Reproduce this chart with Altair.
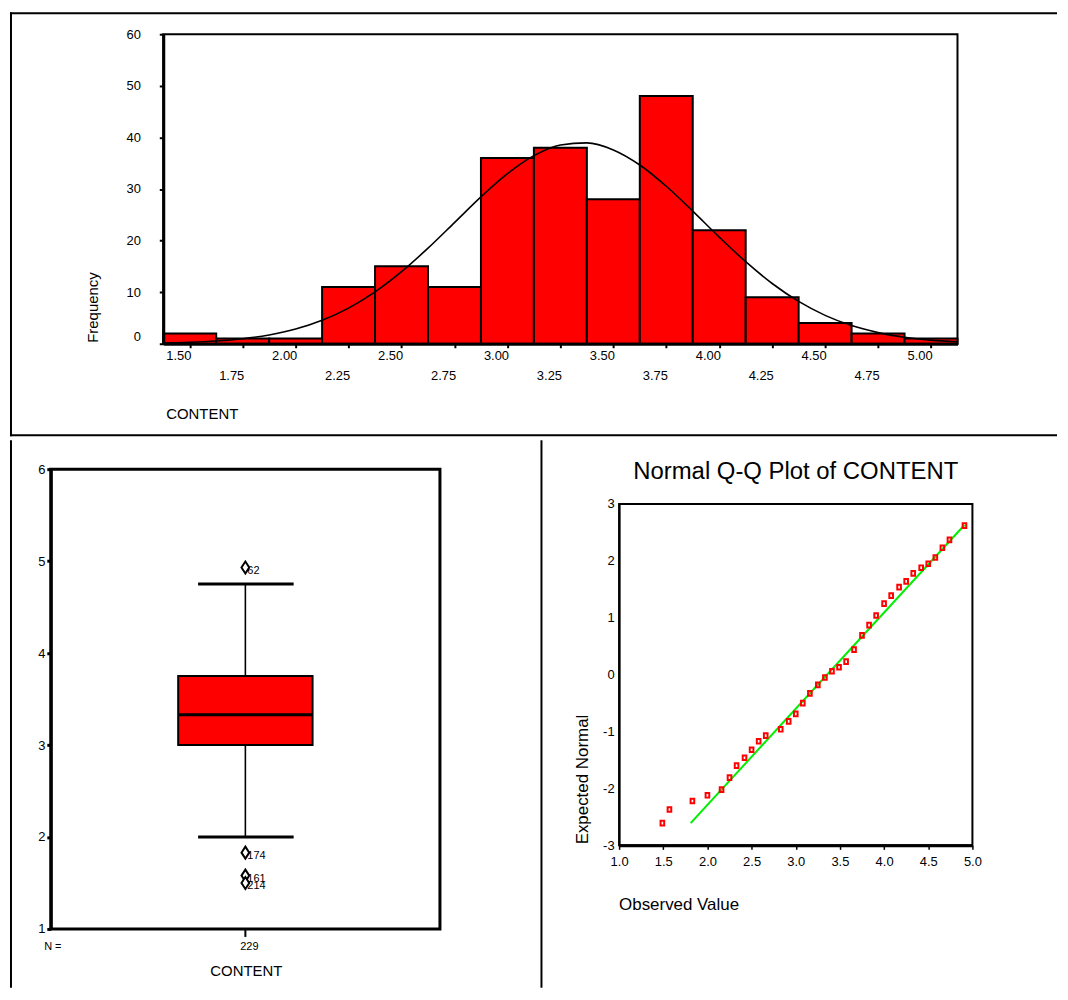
import altair as alt
import pandas as pd

FONT = "Liberation Sans"

# ---------------- Histogram data ----------------
bin_centers = [1.50, 1.75, 2.00, 2.25, 2.50, 2.75, 3.00, 3.25, 3.50, 3.75, 4.00, 4.25, 4.50, 4.75, 5.00]
bin_counts = [2, 1, 1, 11, 15, 11, 36, 38, 28, 48, 22, 9, 4, 2, 1]
bin_tick_labels = ["1.50", "1.75", "2.00", "2.25", "2.50", "2.75", "3.00", "3.25",
                   "3.50", "3.75", "4.00", "4.25", "4.50", "4.75", "5.00"]
freq_ticks = [0, 10, 20, 30, 40, 50, 60]
curve_x = [1.375, 1.5, 1.625, 1.75, 1.875, 2.0, 2.125, 2.25, 2.375, 2.5, 2.625, 2.75, 2.875,
           3.0, 3.125, 3.25, 3.375, 3.5, 3.625, 3.75, 3.875, 4.0, 4.125, 4.25, 4.375, 4.5,
           4.625, 4.75, 4.875, 5.0, 5.125]
curve_y = [0.14, 0.28, 0.54, 0.98, 1.71, 2.85, 4.55, 6.91, 10.05, 13.96, 18.53, 23.49, 28.47,
           32.96, 36.46, 38.54, 38.93, 37.57, 34.65, 30.53, 25.71, 20.68, 15.90, 11.68, 8.20,
           5.50, 3.52, 2.16, 1.26, 0.70, 0.38]

# ---------------- Boxplot data ----------------
box_q1 = 3.00
box_median = 3.33
box_q3 = 3.75
whisker_low = 2.00
whisker_high = 4.75
outlier_values = [4.93, 1.83, 1.58, 1.50]
outlier_ids = ["62", "174", "161", "214"]
box_ticks = [1, 2, 3, 4, 5, 6]
n_cases = "229"

# ---------------- Q-Q data ----------------
qq_observed = [1.49, 1.57, 1.83, 2.00, 2.16, 2.25, 2.33, 2.42, 2.50, 2.58, 2.66, 2.83, 2.92,
               3.00, 3.08, 3.16, 3.25, 3.33, 3.41, 3.49, 3.57, 3.66, 3.75, 3.83, 3.91, 4.00,
               4.08, 4.17, 4.25, 4.33, 4.42, 4.50, 4.58, 4.66, 4.74, 4.91]
qq_expected = [-2.61, -2.37, -2.22, -2.12, -2.02, -1.81, -1.60, -1.46, -1.32, -1.17, -1.07,
               -0.96, -0.82, -0.69, -0.50, -0.33, -0.18, -0.05, 0.06, 0.13, 0.23, 0.44, 0.69,
               0.87, 1.04, 1.25, 1.39, 1.54, 1.64, 1.78, 1.88, 1.95, 2.06, 2.23, 2.37, 2.62]
qq_line_x = [1.81, 4.91]
qq_line_y = [-2.61, 2.63]
qq_x_ticks = [1.0, 1.5, 2.0, 2.5, 3.0, 3.5, 4.0, 4.5, 5.0]
qq_y_ticks = [-3, -2, -1, 0, 1, 2, 3]

one = pd.DataFrame({"k": [0]})


def hrule(x0, x1, y, w=2):
    return alt.Chart(one).mark_rule(color="black", strokeWidth=w).encode(
        x=alt.value(x0), x2=alt.value(x1), y=alt.value(y))


def vrule(x, y0, y1, w=2):
    return alt.Chart(one).mark_rule(color="black", strokeWidth=w).encode(
        x=alt.value(x), y=alt.value(y0), y2=alt.value(y1))


def label(text, x, y, size, align="center", angle=0):
    kw = dict(text=text, fontSize=size, align=align, baseline="middle", color="black", font=FONT)
    if angle:
        kw["angle"] = angle
    return alt.Chart(one).mark_text(**kw).encode(x=alt.value(x), y=alt.value(y))


def axis(**kw):
    base = dict(grid=False, title=None, zindex=1, tickColor="black", domainColor="black",
                labelColor="black", labelFont=FONT, labelFlush=False, labelOverlap=False)
    base.update(kw)
    return alt.Axis(**base)


# ================= Histogram panel (cell 1052 x 426) =================
TW, TH = 1052, 426
HX0, HX1, HY0, HY1 = 154, 952, 22, 333   # plot area inside the cell
hist_df = pd.DataFrame({"c": bin_centers, "count": bin_counts})
hist_df["lo"] = hist_df["c"] - 0.125
hist_df["hi"] = hist_df["c"] + 0.125
curve_df = pd.DataFrame({"cx": curve_x, "cy": curve_y})
tick_df = pd.DataFrame({"c": bin_centers, "lab": bin_tick_labels,
                        "row": [i % 2 for i in range(len(bin_centers))]})

hx_scale = alt.Scale(domain=[1.375, 5.125], range=[HX0, HX1], nice=False, zero=False)
hy_scale = alt.Scale(domain=[0, 60], range=[HY1, HY0], nice=False, zero=False)
hx_axis = axis(values=bin_centers, labels=False, tickSize=4, tickWidth=2, domainWidth=3,
               orient="bottom", offset=HY1 - TH)
hy_axis = axis(values=freq_ticks, tickSize=4, tickWidth=2, domainWidth=3, labelFontSize=13,
               labelPadding=19, orient="left", offset=-HX0,
               labelOffset={"condition": {"test": "datum.value === 0", "value": -7}, "value": 0})

h_frame = alt.Chart(one).mark_rect(fill="transparent", stroke="black", strokeWidth=2).encode(
    x=alt.XDatum(1.375, scale=hx_scale, axis=hx_axis), x2=alt.datum(5.125),
    y=alt.YDatum(60, scale=hy_scale, axis=hy_axis), y2=alt.datum(0))
bars = alt.Chart(hist_df).mark_rect(fill="#ff0000", stroke="black", strokeWidth=2).encode(
    x=alt.X("lo:Q", scale=hx_scale, axis=hx_axis),
    x2="hi:Q",
    y=alt.Y("count:Q", scale=hy_scale, axis=hy_axis),
    y2=alt.datum(0),
)
curve = alt.Chart(curve_df).mark_line(color="black", strokeWidth=1.6, interpolate="monotone").encode(
    x=alt.X("cx:Q", scale=hx_scale, axis=hx_axis),
    y=alt.Y("cy:Q", scale=hy_scale, axis=hy_axis),
)
tick_row1 = alt.Chart(tick_df).transform_filter("datum.row == 0").mark_text(
    fontSize=13, dx=-11, baseline="middle", color="black", font=FONT).encode(
    x=alt.X("c:Q", scale=hx_scale, axis=hx_axis), y=alt.value(345.5), text="lab:N")
tick_row2 = alt.Chart(tick_df).transform_filter("datum.row == 1").mark_text(
    fontSize=13, dx=-11, baseline="middle", color="black", font=FONT).encode(
    x=alt.X("c:Q", scale=hx_scale, axis=hx_axis), y=alt.value(365.5), text="lab:N")

top = alt.layer(
    hrule(0, TW, 1),
    vrule(1, 0, TH),
    hrule(0, TW, TH - 1),
    h_frame, bars, curve, tick_row1, tick_row2,
    label("Frequency", 83.5, 332, 15, align="left", angle=270),
    label("CONTENT", 157, 404, 15, align="left"),
).properties(width=TW, height=TH)

# ================= Boxplot panel (cell 535 x 550) =================
LW, LH = 535, 550
BX0, BX1, BY0, BY1 = 41, 432, 29, 491
box_df = pd.DataFrame({"q1": [box_q1], "q3": [box_q3], "med": [box_median],
                       "wlo": [whisker_low], "whi": [whisker_high]})
out_df = pd.DataFrame({"v": outlier_values, "id": outlier_ids})
by_scale = alt.Scale(domain=[1, 6], range=[BY1, BY0], nice=False, zero=False)
by_axis = axis(values=box_ticks, tickSize=4, tickWidth=3, domainWidth=3, labelFontSize=13,
               labelPadding=2, orient="left", offset=-BX0)
CX = 236.5
BOX_L, BOX_R = 169, 304
CAP_L, CAP_R = 189, 285

b_frame = alt.Chart(one).mark_rect(fill="transparent", stroke="black", strokeWidth=3).encode(
    x=alt.value(BX0), x2=alt.value(BX1),
    y=alt.YDatum(6, scale=by_scale, axis=by_axis), y2=alt.datum(1))
box_rect = alt.Chart(box_df).mark_rect(fill="#ff0000", stroke="black", strokeWidth=2).encode(
    x=alt.value(BOX_L), x2=alt.value(BOX_R),
    y=alt.Y("q1:Q", scale=by_scale, axis=by_axis), y2="q3:Q")
median_rule = alt.Chart(box_df).mark_rule(color="black", strokeWidth=3).encode(
    x=alt.value(BOX_L), x2=alt.value(BOX_R), y=alt.Y("med:Q", scale=by_scale, axis=by_axis))
whisk_lo = alt.Chart(box_df).mark_rule(color="black", strokeWidth=1.6).encode(
    x=alt.value(CX), y=alt.Y("wlo:Q", scale=by_scale, axis=by_axis), y2="q1:Q")
whisk_hi = alt.Chart(box_df).mark_rule(color="black", strokeWidth=1.6).encode(
    x=alt.value(CX), y=alt.Y("q3:Q", scale=by_scale, axis=by_axis), y2="whi:Q")
cap_lo = alt.Chart(box_df).mark_rule(color="black", strokeWidth=3).encode(
    x=alt.value(CAP_L), x2=alt.value(CAP_R), y=alt.Y("wlo:Q", scale=by_scale, axis=by_axis))
cap_hi = alt.Chart(box_df).mark_rule(color="black", strokeWidth=3).encode(
    x=alt.value(CAP_L), x2=alt.value(CAP_R), y=alt.Y("whi:Q", scale=by_scale, axis=by_axis))
diamond = "M0,-1L0.65,0L0,1L-0.65,0Z"
outliers = alt.Chart(out_df).mark_point(shape=diamond, size=144, filled=True, fill="white",
                                        stroke="black", strokeWidth=2, opacity=1).encode(
    x=alt.value(CX), y=alt.Y("v:Q", scale=by_scale, axis=by_axis))
out_labels = alt.Chart(out_df).mark_text(fontSize=11, align="left", baseline="middle", dx=2, dy=3,
                                          color="black", font=FONT).encode(
    x=alt.value(CX), y=alt.Y("v:Q", scale=by_scale, axis=by_axis), text="id:N")

box = alt.layer(
    vrule(1, 0, LH),
    vrule(534, 0, LH),
    b_frame, box_rect, whisk_lo, whisk_hi, cap_lo, cap_hi, median_rule, outliers, out_labels,
    vrule(CX, BY1, BY1 + 8),
    label("N =", 43, 509, 11),
    label(n_cases, 240.5, 509, 11),
    label("CONTENT", 237.5, 533, 15),
).properties(width=LW, height=LH)

# ================= Q-Q panel (cell 517 x 550) =================
RW, RH = 517, 550
QX0, QX1, QY0, QY1 = 75, 430, 64, 407
qq_df = pd.DataFrame({"obs": qq_observed, "exp": qq_expected})
qq_line_df = pd.DataFrame({"lx": qq_line_x, "ly": qq_line_y})
qx_scale = alt.Scale(domain=[1, 5], range=[QX0, QX1], nice=False, zero=False)
qy_scale = alt.Scale(domain=[-3, 3], range=[QY1, QY0], nice=False, zero=False)
qx_axis = axis(values=qq_x_ticks, format=".1f", tickSize=4, tickWidth=1.5, domainWidth=3,
               labelFontSize=13, labelPadding=6, orient="bottom", offset=QY1 - RH)
qy_axis = axis(values=qq_y_ticks, ticks=False, domainWidth=2, labelFontSize=13,
               labelPadding=5, orient="left", offset=-QX0, labelExpr="'' + datum.value")

q_frame = alt.Chart(one).mark_rect(fill="transparent", stroke="black", strokeWidth=2).encode(
    x=alt.XDatum(1, scale=qx_scale, axis=qx_axis), x2=alt.datum(5),
    y=alt.YDatum(3, scale=qy_scale, axis=qy_axis), y2=alt.datum(-3))
qq_line = alt.Chart(qq_line_df).mark_line(color="#00ee00", strokeWidth=2).encode(
    x=alt.X("lx:Q", scale=qx_scale, axis=qx_axis),
    y=alt.Y("ly:Q", scale=qy_scale, axis=qy_axis))
square = "M-0.78,-1L0.78,-1L0.78,1L-0.78,1Z"
qq_pts = alt.Chart(qq_df).mark_point(shape=square, size=22, filled=False, stroke="#ff0000",
                                     strokeWidth=2, opacity=1).encode(
    x=alt.X("obs:Q", scale=qx_scale, axis=qx_axis),
    y=alt.Y("exp:Q", scale=qy_scale, axis=qy_axis))

qq = alt.layer(
    q_frame, qq_line, qq_pts,
    label("Normal Q-Q Plot of CONTENT", (QX0 + QX1) / 2, 32, 24),
    label("Expected Normal", 39, 406, 17, align="left", angle=270),
    label("Observed Value", 75, 467, 17, align="left"),
).properties(width=RW, height=RH)

chart = alt.vconcat(
    top,
    alt.hconcat(box, qq, spacing=0),
    spacing=0,
    padding=0,
).configure(font=FONT).configure_view(stroke="transparent")

chart.save("out.html", embed_options={"renderer": "svg", "actions": False})
